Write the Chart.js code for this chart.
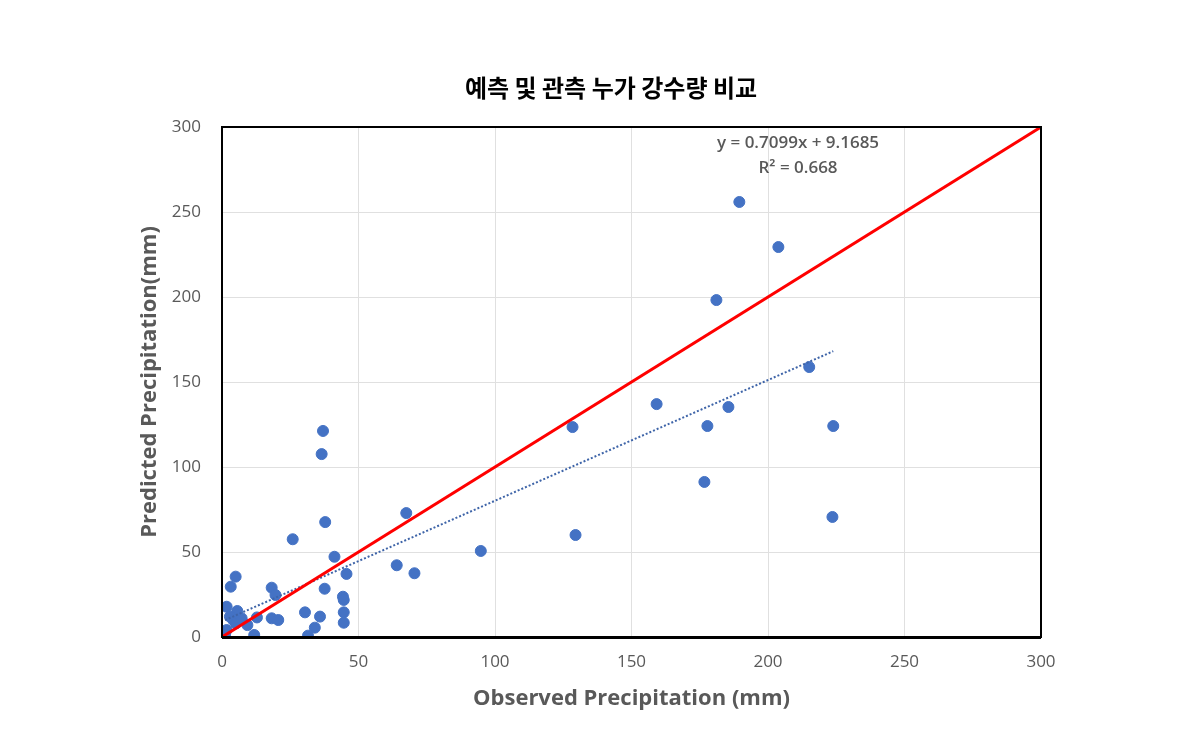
<!DOCTYPE html>
<html>
<head>
<meta charset="utf-8">
<script src="https://cdn.jsdelivr.net/npm/chart.js@4.4.1/dist/chart.umd.min.js"></script>
<style>
  html, body { margin: 0; padding: 0; background: #fff; }
  #wrap { width: 1190px; height: 752px; }
</style>
</head>
<body>
<div id="wrap"><canvas id="chart" width="1190" height="752"></canvas></div>
<script>
// observed vs predicted (mm)
const observed = [189.5, 203.8, 181.1, 215.1, 159.2, 185.5, 177.8, 223.9, 128.4, 176.7,
  223.6, 129.5, 94.8, 67.5, 37.0, 36.5, 37.8, 25.9, 41.2, 64.0,
  70.5, 45.6, 37.6, 44.3, 44.6, 30.4, 35.9, 44.6, 44.6, 34.0,
  31.5, 5.0, 3.2, 18.2, 19.6, 1.7, 5.6, 2.9, 4.1, 5.1,
  7.2, 12.8, 18.2, 20.6, 9.3, 1.7, 11.8, 1.1];
const predicted = [255.9, 229.4, 198.2, 158.8, 137.0, 135.3, 124.1, 124.1, 123.5, 91.2,
  70.6, 60.0, 50.6, 72.9, 121.2, 107.6, 67.6, 57.5, 47.2, 42.2,
  37.5, 37.1, 28.4, 23.7, 21.8, 14.5, 12.0, 14.5, 8.4, 5.5,
  0.8, 35.5, 29.6, 29.0, 24.7, 17.8, 15.3, 12.0, 10.0, 8.0,
  11.0, 11.5, 11.0, 10.0, 7.0, 4.1, 1.2, 1.2];

const axisMin = 0;
const axisMax = 300;
const axisStep = 50;

// excel linear trendline
const slope = 0.7099;
const intercept = 9.1685;
const rSquared = 0.668;

const chartTitle = '예측 및 관측 누가 강수량 비교';

const points = observed.map((x, i) => ({x: x, y: predicted[i]}));
const xLo = Math.min(...observed);
const xHi = Math.max(...observed);
const trend = [xLo, xHi].map(x => ({x: x, y: slope * x + intercept}));
const oneToOne = [{x: axisMin, y: axisMin}, {x: axisMax, y: axisMax}];

const grey = '#595959';

const boxPlugin = {
  id: 'box',
  afterDatasetsDraw(chart) {
    const {ctx, chartArea: a, scales} = chart;
    ctx.save();
    ctx.strokeStyle = '#000';
    ctx.lineWidth = 2;
    ctx.strokeRect(a.left, a.top, a.right - a.left, a.bottom - a.top);
    ctx.beginPath();
    ctx.lineWidth = 3;
    ctx.moveTo(a.left, a.bottom + 0.5);
    ctx.lineTo(a.right, a.bottom + 0.5);
    ctx.stroke();

    // trendline label
    const px = scales.x.getPixelForValue(211);
    ctx.fillStyle = grey;
    ctx.font = '600 17px "Open Sans"';
    ctx.textAlign = 'center';
    ctx.textBaseline = 'middle';
    ctx.fillText('y = ' + slope + 'x + ' + intercept, px, scales.y.getPixelForValue(290.6));
    ctx.fillText('R² = ' + rSquared, px, scales.y.getPixelForValue(276));

    // chart title
    ctx.fillStyle = '#000';
    ctx.font = 'bold 24px "Noto Sans CJK KR"';
    ctx.fillText(chartTitle, 611, 88);
    ctx.restore();
  }
};

new Chart(document.getElementById('chart'), {
  data: {
    datasets: [
      {
        type: 'scatter',
        data: points,
        backgroundColor: '#4472C4',
        borderColor: '#4472C4',
        pointRadius: 5.5,
        pointHoverRadius: 5.5,
        order: 3
      },
      {
        type: 'line',
        data: trend,
        borderColor: '#3E64A8',
        borderWidth: 2,
        borderDash: [2, 2],
        pointRadius: 0,
        fill: false,
        order: 2
      },
      {
        type: 'line',
        data: oneToOne,
        borderColor: '#FF0000',
        borderWidth: 3,
        pointRadius: 0,
        fill: false,
        order: 1
      }
    ]
  },
  options: {
    responsive: false,
    animation: false,
    layout: {padding: {left: 0, right: 149, top: 127, bottom: 0}},
    plugins: {
      legend: {display: false},
      tooltip: {enabled: false},
      title: {display: false}
    },
    scales: {
      x: {
        type: 'linear',
        min: axisMin,
        max: axisMax,
        ticks: {stepSize: axisStep, color: grey, font: {family: '"Open Sans"', size: 17}, padding: 15},
        grid: {color: '#e0e0e0', drawTicks: false},
        border: {display: false},
        title: {
          display: true,
          text: 'Observed Precipitation (mm)',
          color: grey,
          font: {family: '"Open Sans"', size: 22, weight: 'bold'},
          padding: {top: 0, bottom: 40}
        },
        afterFit(s) { s.height = 115; }
      },
      y: {
        type: 'linear',
        min: axisMin,
        max: axisMax,
        ticks: {stepSize: axisStep, color: grey, font: {family: '"Open Sans"', size: 17}, padding: 21},
        grid: {color: '#e0e0e0', drawTicks: false},
        border: {display: false},
        title: {
          display: true,
          text: 'Predicted Precipitation(mm)',
          color: grey,
          font: {family: '"Open Sans"', size: 22, weight: 'bold'},
          padding: {top: 137, bottom: 0}
        },
        afterFit(s) { s.width = 222; }
      }
    }
  },
  plugins: [boxPlugin]
});
</script>
</body>
</html>
